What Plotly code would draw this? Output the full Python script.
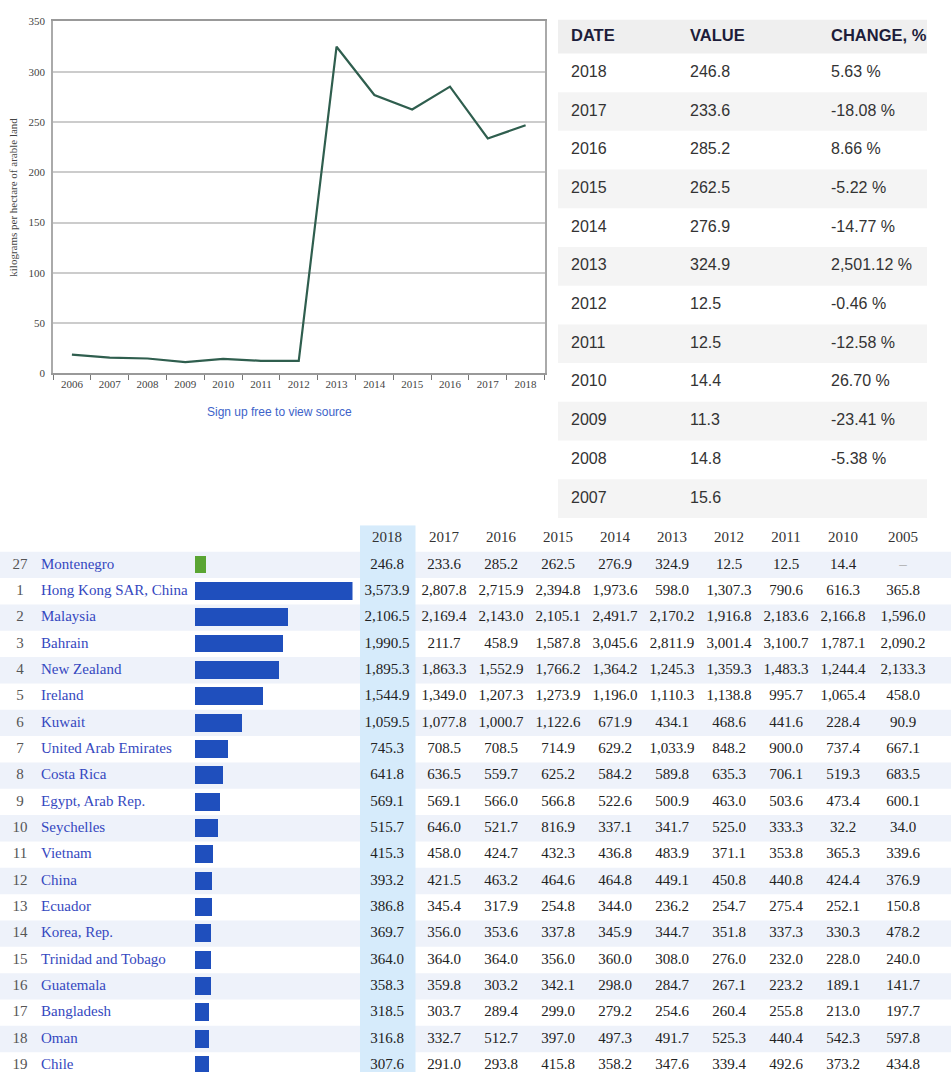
import plotly.graph_objects as go

# ---------------- data ----------------
years = ["2006", "2007", "2008", "2009", "2010", "2011", "2012",
         "2013", "2014", "2015", "2016", "2017", "2018"]
fertilizer = [18.6, 15.6, 14.8, 11.3, 14.4, 12.5, 12.5,
              324.9, 276.9, 262.5, 285.2, 233.6, 246.8]
# change, % for table rows 2018 ... 2007
change_pct = [5.63, -18.08, 8.66, -5.22, -14.77, 2501.12, -0.46,
              -12.58, 26.70, -23.41, -5.38, None]

ranks = [27, 1, 2, 3, 4, 5, 6, 7, 8, 9, 10, 11, 12, 13, 14, 15, 16, 17, 18, 19]
countries = ["Montenegro", "Hong Kong SAR, China", "Malaysia", "Bahrain", "New Zealand",
             "Ireland", "Kuwait", "United Arab Emirates", "Costa Rica", "Egypt, Arab Rep.",
             "Seychelles", "Vietnam", "China", "Ecuador", "Korea, Rep.",
             "Trinidad and Tobago", "Guatemala", "Bangladesh", "Oman", "Chile"]
col_years = ["2018", "2017", "2016", "2015", "2014", "2013", "2012", "2011", "2010", "2005"]
v2018 = [246.8, 3573.9, 2106.5, 1990.5, 1895.3, 1544.9, 1059.5, 745.3, 641.8, 569.1,
         515.7, 415.3, 393.2, 386.8, 369.7, 364.0, 358.3, 318.5, 316.8, 307.6]
v2017 = [233.6, 2807.8, 2169.4, 211.7, 1863.3, 1349.0, 1077.8, 708.5, 636.5, 569.1,
         646.0, 458.0, 421.5, 345.4, 356.0, 364.0, 359.8, 303.7, 332.7, 291.0]
v2016 = [285.2, 2715.9, 2143.0, 458.9, 1552.9, 1207.3, 1000.7, 708.5, 559.7, 566.0,
         521.7, 424.7, 463.2, 317.9, 353.6, 364.0, 303.2, 289.4, 512.7, 293.8]
v2015 = [262.5, 2394.8, 2105.1, 1587.8, 1766.2, 1273.9, 1122.6, 714.9, 625.2, 566.8,
         816.9, 432.3, 464.6, 254.8, 337.8, 356.0, 342.1, 299.0, 397.0, 415.8]
v2014 = [276.9, 1973.6, 2491.7, 3045.6, 1364.2, 1196.0, 671.9, 629.2, 584.2, 522.6,
         337.1, 436.8, 464.8, 344.0, 345.9, 360.0, 298.0, 279.2, 497.3, 358.2]
v2013 = [324.9, 598.0, 2170.2, 2811.9, 1245.3, 1110.3, 434.1, 1033.9, 589.8, 500.9,
         341.7, 483.9, 449.1, 236.2, 344.7, 308.0, 284.7, 254.6, 491.7, 347.6]
v2012 = [12.5, 1307.3, 1916.8, 3001.4, 1359.3, 1138.8, 468.6, 848.2, 635.3, 463.0,
         525.0, 371.1, 450.8, 254.7, 351.8, 276.0, 267.1, 260.4, 525.3, 339.4]
v2011 = [12.5, 790.6, 2183.6, 3100.7, 1483.3, 995.7, 441.6, 900.0, 706.1, 503.6,
         333.3, 353.8, 440.8, 275.4, 337.3, 232.0, 223.2, 255.8, 440.4, 492.6]
v2010 = [14.4, 616.3, 2166.8, 1787.1, 1244.4, 1065.4, 228.4, 737.4, 519.3, 473.4,
         32.2, 365.3, 424.4, 252.1, 330.3, 228.0, 189.1, 213.0, 542.3, 373.2]
v2005 = [None, 365.8, 1596.0, 2090.2, 2133.3, 458.0, 90.9, 667.1, 683.5, 600.1,
         34.0, 339.6, 376.9, 150.8, 478.2, 240.0, 141.7, 197.7, 597.8, 434.8]
year_columns = [v2018, v2017, v2016, v2015, v2014, v2013, v2012, v2011, v2010, v2005]

# ---------------- layout constants ----------------
W, H = 951, 1080          # page a little taller so the capture is filled to the bottom
SERIF = "Liberation Serif, Times New Roman, serif"
SANS = "Liberation Sans, Arial, sans-serif"
VS, VO = 0.99, 4.5        # vertical calibration of the capture


def px_x(p):
    return p / W


def vy(p):
    """target picture row -> page row"""
    return (p - VO) / VS


def px_y(p):
    return 1 - vy(p) / H


fig = go.Figure()

# ---------- line chart (top-left) ----------
fig.add_trace(go.Scatter(
    x=years, y=fertilizer, mode="lines",
    line=dict(color="#2f5e4e", width=2.2),
    xaxis="x", yaxis="y", showlegend=False, hoverinfo="x+y"))

# ---------- top-right table ----------
T_W = 369
T_TOP, HEAD_BOT, T_BOT = 18, 52, 517
tbl_years = years[::-1][:-1]          # 2018 ... 2007
tbl_vals = fertilizer[::-1][:-1]
n_t = len(tbl_years)
ROW_H = (T_BOT - HEAD_BOT) / n_t
HEAD_H = HEAD_BOT - T_TOP
T_H = T_BOT - T_TOP
row_y = [HEAD_H + ROW_H * (i + 0.5) for i in range(n_t)]
col_x = [13, 132, 273]

shapes = []
shapes.append(dict(type="rect", xref="x2", yref="y2", x0=0, x1=T_W, y0=0, y1=HEAD_H,
                   fillcolor="#efefef", line=dict(width=0), layer="below"))
for i in range(n_t):
    if i % 2 == 1:
        shapes.append(dict(type="rect", xref="x2", yref="y2", x0=0, x1=T_W,
                           y0=HEAD_H + ROW_H * i, y1=HEAD_H + ROW_H * (i + 1),
                           fillcolor="#f4f4f4", line=dict(width=0), layer="below"))

headers = ["DATE", "VALUE", "CHANGE, %"]
for cx, h in zip(col_x, headers):
    fig.add_trace(go.Scatter(
        x=[cx], y=[HEAD_H / 2], text=["<b>" + h + "</b>"], mode="text",
        textposition="middle right",
        textfont=dict(family=SANS, size=16.5, color="#1d1d3a"),
        xaxis="x2", yaxis="y2", showlegend=False, hoverinfo="skip"))

t_cols = [tbl_years,
          [f"{v:.1f}" for v in tbl_vals],
          [("" if c is None else f"{c:,.2f} %") for c in change_pct]]
for cx, col in zip(col_x, t_cols):
    fig.add_trace(go.Scatter(
        x=[cx] * n_t, y=row_y, text=col, mode="text", textposition="middle right",
        textfont=dict(family=SANS, size=16, color="#333333"),
        xaxis="x2", yaxis="y2", showlegend=False, hoverinfo="skip"))

# ---------- bottom ranking table ----------
n_b = len(countries)
rows = list(range(n_b))
ROW0_PX, BROW_H = 564, 26.37
top_px = ROW0_PX - 1.5 * BROW_H
page_row_h = BROW_H / VS
y_bottom = (H - vy(ROW0_PX)) / page_row_h   # row index at the page's bottom edge

for k in rows:
    if k % 2 == 0:
        shapes.append(dict(type="rect", xref="paper", yref="y3", x0=0, x1=1,
                           y0=k - 0.5, y1=k + 0.5, fillcolor="#eef2fa",
                           line=dict(width=0), layer="below"))
shapes.append(dict(type="rect", xref="paper", yref="y3", x0=px_x(360), x1=px_x(415.5),
                   y0=-1.5, y1=y_bottom, fillcolor="#d6ebfb",
                   line=dict(width=0), layer="below"))

bar_colors = ["#5aa533"] + ["#1f4fbd"] * (n_b - 1)
fig.add_trace(go.Bar(
    x=v2018, y=rows, orientation="h", width=0.68,
    marker=dict(color=bar_colors, line=dict(width=0)),
    xaxis="x4", yaxis="y3", showlegend=False, hoverinfo="x"))

fig.add_trace(go.Scatter(
    x=[20] * n_b, y=rows, text=[str(r) for r in ranks], mode="text",
    textposition="middle center",
    textfont=dict(family=SERIF, size=15, color="#555555"),
    xaxis="x3", yaxis="y3", showlegend=False, hoverinfo="skip"))
fig.add_trace(go.Scatter(
    x=[41] * n_b, y=rows, text=countries, mode="text",
    textposition="middle right",
    textfont=dict(family=SERIF, size=15, color="#3548c0"),
    xaxis="x3", yaxis="y3", showlegend=False, hoverinfo="skip"))

col_centers = [387, 444, 501, 558, 615, 672, 729, 786, 843, 903]
for cx, yr, vals in zip(col_centers, col_years, year_columns):
    fig.add_trace(go.Scatter(
        x=[cx], y=[-1], text=[yr], mode="text", textposition="middle center",
        textfont=dict(family=SERIF, size=15, color="#333333"),
        xaxis="x3", yaxis="y3", showlegend=False, hoverinfo="skip"))
    fig.add_trace(go.Scatter(
        x=[cx] * n_b, y=rows,
        text=[("–" if v is None else f"{v:,.1f}") for v in vals],
        mode="text", textposition="middle center",
        textfont=dict(family=SERIF, size=15,
                      color=["#aaaaaa" if v is None else "#222222" for v in vals]),
        xaxis="x3", yaxis="y3", showlegend=False, hoverinfo="skip"))

hidden = dict(visible=False, showgrid=False, zeroline=False, fixedrange=True)

fig.update_layout(
    width=W, height=H, margin=dict(l=0, r=0, t=0, b=0),
    paper_bgcolor="white", plot_bgcolor="rgba(0,0,0,0)",
    shapes=shapes,
    bargap=0,
    xaxis=dict(domain=[px_x(53), px_x(544.5)], type="category", range=[-0.5, 12.5],
               ticks="outside", tickson="boundaries", ticklen=5, tickcolor="#777777",
               showline=True, linecolor="#999999", linewidth=1.5, mirror=True,
               showgrid=False, tickfont=dict(family=SERIF, size=11, color="#444444"),
               anchor="y", fixedrange=True),
    yaxis=dict(domain=[px_y(372.3), px_y(20)], range=[0, 350], dtick=50,
               showgrid=True, gridcolor="#cccccc", gridwidth=1.5, zeroline=False,
               showline=True, linecolor="#aaaaaa", linewidth=1.5, mirror=True,
               ticks="", tickfont=dict(family=SERIF, size=11, color="#444444"),
               ticklabelstandoff=4,
               title=dict(text="kilograms per hectare of arable land",
                          font=dict(family=SERIF, size=11, color="#444444"), standoff=9),
               anchor="x", fixedrange=True),
    xaxis2=dict(domain=[px_x(558), px_x(927)], range=[0, T_W], anchor="y2", **hidden),
    yaxis2=dict(domain=[px_y(T_BOT), px_y(T_TOP)], range=[T_H, 0], anchor="x2", **hidden),
    xaxis3=dict(domain=[0, 1], range=[0, W], anchor="y3", **hidden),
    yaxis3=dict(domain=[0, px_y(top_px)], range=[y_bottom, -1.5], anchor="x3", **hidden),
    xaxis4=dict(domain=[px_x(195), px_x(352.5)], range=[0, max(v2018)], anchor="y3", **hidden),
    annotations=[dict(text="Sign up free to view source", xref="paper", yref="paper",
                      x=px_x(279), y=px_y(411), xanchor="center", yanchor="middle",
                      showarrow=False,
                      font=dict(family=SANS, size=12, color="#3d63c9"))],
)

fig.write_html("out.html", config={"displayModeBar": False},
               post_script="document.body.style.margin='0';"
                           "document.body.style.overflow='hidden';")
